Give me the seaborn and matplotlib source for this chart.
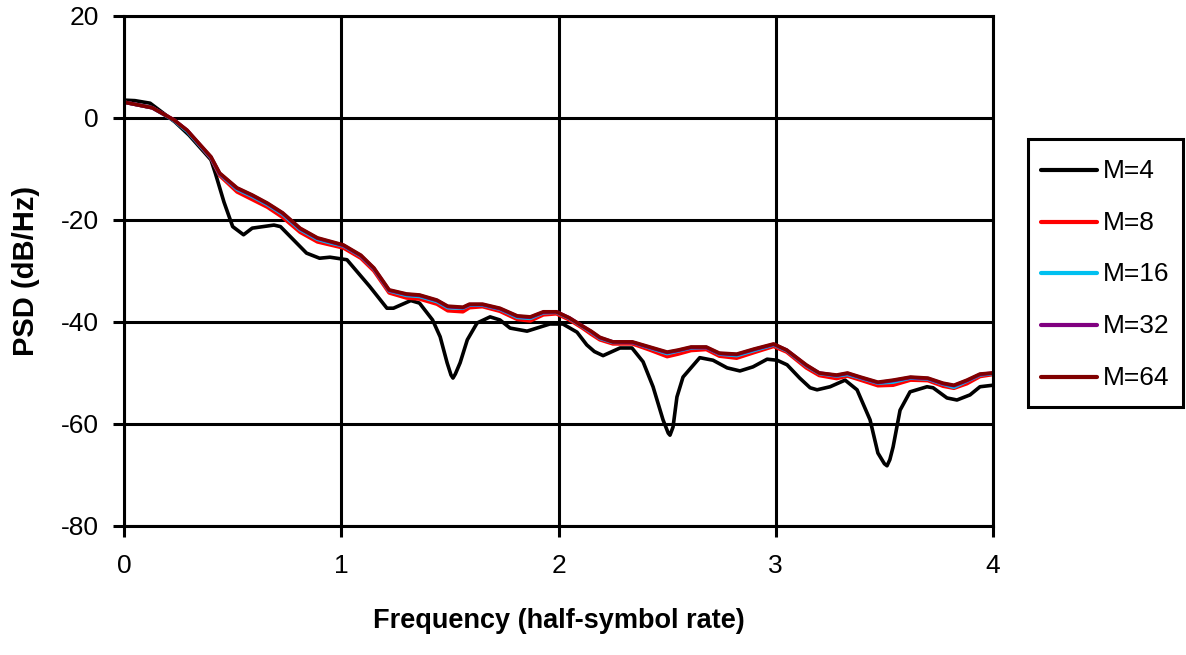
import numpy as np
import pandas as pd
import matplotlib
matplotlib.use('Agg')
import matplotlib.pyplot as plt
import seaborn as sns

# M=4 curve (own frequency grid)
f4 = [0.0, 0.05, 0.12, 0.235, 0.30, 0.40, 0.42, 0.46, 0.50, 0.55, 0.59, 0.69, 0.72, 0.84, 0.90,
      0.948, 1.026, 1.13, 1.21, 1.24, 1.32, 1.36, 1.42, 1.455, 1.487, 1.505, 1.514, 1.525, 1.547, 1.58,
      1.625, 1.685, 1.73, 1.777, 1.855, 1.915, 1.96, 2.02, 2.085, 2.13, 2.165, 2.205, 2.283,
      2.338, 2.389, 2.435, 2.481, 2.505, 2.513, 2.527, 2.545, 2.573, 2.65, 2.711, 2.776, 2.835,
      2.895, 2.96, 3.006, 3.052, 3.11, 3.158, 3.19, 3.25, 3.319, 3.374, 3.434, 3.47, 3.50, 3.512,
      3.525, 3.54, 3.572, 3.618, 3.696, 3.724, 3.788, 3.834, 3.894, 3.94, 4.0]
psd4 = [3.5, 3.4, 2.9, -0.8, -3.4, -8.2, -10.8, -16.5, -21.3, -22.9, -21.6, -21.0, -21.3, -26.5, -27.5,
        -27.3, -27.8, -33.0, -37.3, -37.3, -35.8, -36.3, -39.6, -42.9, -48.0, -50.4, -51.0, -50.2, -48.0, -43.5,
        -40.2, -39.0, -39.6, -41.2, -41.8, -41.0, -40.4, -40.4, -42.0, -44.5, -45.8, -46.6, -45.1,
        -45.1, -47.8, -52.7, -59.2, -61.8, -62.2, -60.6, -54.7, -50.8, -47.0, -47.5, -49.0, -49.6,
        -48.8, -47.3, -47.5, -48.4, -51.0, -52.9, -53.3, -52.7, -51.4, -53.3, -59.2, -65.7, -67.8, -68.2,
        -67.0, -64.5, -57.3, -53.7, -52.7, -52.9, -54.9, -55.3, -54.3, -52.7, -52.4]

# common frequency grid for M=8..64
f = [0.0, 0.13, 0.23, 0.29, 0.40, 0.44, 0.52, 0.59, 0.66, 0.73, 0.81, 0.89, 0.95, 1.01, 1.09,
     1.15, 1.22, 1.30, 1.36, 1.44, 1.49, 1.56, 1.59, 1.65, 1.73, 1.81, 1.87, 1.93, 1.99, 2.05,
     2.11, 2.15, 2.19, 2.25, 2.34, 2.42, 2.50, 2.55, 2.61, 2.68, 2.74, 2.82, 2.90, 2.99, 3.05,
     3.14, 3.20, 3.28, 3.33, 3.39, 3.47, 3.54, 3.62, 3.70, 3.77, 3.82, 3.88, 3.94, 4.00]
psd8 = [3.1, 2.0, -0.4, -2.5, -7.9, -11.3, -14.5, -16.0, -17.5, -19.5, -22.4, -24.3, -24.9, -25.5, -27.5,
        -30.0, -34.3, -35.3, -35.5, -36.5, -37.8, -38.0, -37.2, -37.0, -37.9, -39.5, -39.8, -38.6, -38.4, -39.6,
        -41.2, -42.4, -43.5, -44.3, -44.3, -45.5, -46.8, -46.3, -45.6, -45.4, -46.7, -47.1, -46.0, -44.8, -45.9,
        -49.0, -50.5, -51.1, -50.6, -51.4, -52.5, -52.4, -51.4, -51.5, -52.6, -53.0, -52.1, -50.7, -50.3]
psd16 = [3.1, 2.0, -0.5, -2.6, -7.8, -11.0, -14.0, -15.4, -17.0, -18.9, -21.9, -23.8, -24.5, -25.1, -27.1,
         -29.6, -33.9, -34.8, -35.0, -36.0, -37.2, -37.3, -36.7, -36.7, -37.5, -39.1, -39.3, -38.2, -38.1, -39.3,
         -40.9, -42.0, -43.2, -44.0, -44.0, -45.1, -46.2, -45.7, -45.1, -45.0, -46.3, -46.6, -45.6, -44.5, -45.6,
         -48.6, -50.1, -50.6, -50.3, -51.0, -52.0, -51.8, -51.0, -51.2, -52.2, -52.8, -51.6, -50.4, -50.1]
psd32 = [3.1, 2.0, -0.4, -2.4, -7.7, -10.9, -13.8, -15.2, -16.8, -18.7, -21.7, -23.6, -24.3, -25.0, -27.0,
         -29.5, -33.8, -34.6, -34.8, -35.8, -37.0, -37.2, -36.6, -36.6, -37.4, -38.9, -39.1, -38.1, -38.0, -39.2,
         -40.8, -41.9, -43.1, -43.9, -44.0, -45.0, -46.0, -45.6, -45.0, -45.0, -46.2, -46.4, -45.4, -44.4, -45.5,
         -48.5, -50.0, -50.5, -50.1, -50.9, -51.9, -51.5, -50.9, -51.1, -52.1, -52.5, -51.5, -50.3, -50.0]
psd64 = [3.1, 2.0, -0.4, -2.4, -7.6, -10.8, -13.7, -15.1, -16.7, -18.6, -21.6, -23.5, -24.2, -24.9, -26.9,
         -29.4, -33.7, -34.5, -34.7, -35.7, -36.9, -37.1, -36.5, -36.5, -37.3, -38.8, -39.0, -38.0, -38.0, -39.2,
         -40.8, -41.8, -43.0, -43.9, -43.9, -44.9, -45.9, -45.5, -44.9, -44.9, -46.1, -46.3, -45.3, -44.3, -45.5,
         -48.4, -50.0, -50.4, -50.0, -50.8, -51.8, -51.4, -50.8, -51.0, -52.0, -52.4, -51.4, -50.2, -50.0]

labels = ['M=4', 'M=8', 'M=16', 'M=32', 'M=64']
colors = ['black', '#ff0000', '#00c0f0', '#800080', '#800000']

frames = [pd.DataFrame({'f': f4, 'psd': psd4, 'M': 'M=4'})]
for lab, vals in zip(labels[1:], [psd8, psd16, psd32, psd64]):
    frames.append(pd.DataFrame({'f': f, 'psd': vals, 'M': lab}))
df = pd.concat(frames, ignore_index=True)

sns.set_style('white')
plt.rcParams['font.family'] = ['Liberation Sans', 'DejaVu Sans']
plt.rcParams['axes.unicode_minus'] = False
plt.rcParams['text.color'] = 'black'
plt.rcParams['axes.labelcolor'] = 'black'
plt.rcParams['xtick.color'] = 'black'
plt.rcParams['ytick.color'] = 'black'

fig = plt.figure(figsize=(11.86, 6.55), dpi=100)
ax = fig.add_axes([0.1046, 0.197, 0.7327, 0.7786])

sns.lineplot(data=df, x='f', y='psd', hue='M', hue_order=labels,
             palette=dict(zip(labels, colors)), estimator=None, sort=False,
             linewidth=2.6, ax=ax, legend=True)
for ln in ax.get_lines():
    ln.set_solid_joinstyle('round')

ax.set_xlim(0, 4)
ax.set_ylim(-80, 20)
ax.set_xticks([0, 1, 2, 3, 4])
ax.set_yticks([20, 0, -20, -40, -60, -80])
ax.grid(True, color='black', linewidth=2.2)
for s in ax.spines.values():
    s.set_color('black')
    s.set_linewidth(2.2)
ax.tick_params(axis='both', direction='out', length=8, width=2.2,
               labelsize=19, left=True, bottom=True)
ax.tick_params(axis='y', pad=10)
ax.tick_params(axis='x', pad=12)
ax.set_xlabel('Frequency (half-symbol rate)', fontsize=19.5, fontweight='bold', labelpad=22)
ax.set_ylabel('PSD (dB/Hz)', fontsize=21, fontweight='bold', labelpad=15)

handles, labs = ax.get_legend_handles_labels()
ax.legend_.remove()
leg = fig.legend(handles, labs, loc='upper left', bbox_to_anchor=(0.8668, 0.788),
                 frameon=True, fancybox=False, edgecolor='black', framealpha=1,
                 fontsize=19, labelspacing=0.68, handlelength=2.1, handleheight=1.6,
                 handletextpad=0.25, borderpad=0.5, borderaxespad=0)
leg.get_frame().set_linewidth(2.2)
# nudge the handle lines down so they sit level with the text
for h in leg.get_lines():
    h.set_linewidth(3)
    h.set_ydata(np.asarray(h.get_ydata()) - 3.5)

fig.savefig('out.png', dpi=100)
